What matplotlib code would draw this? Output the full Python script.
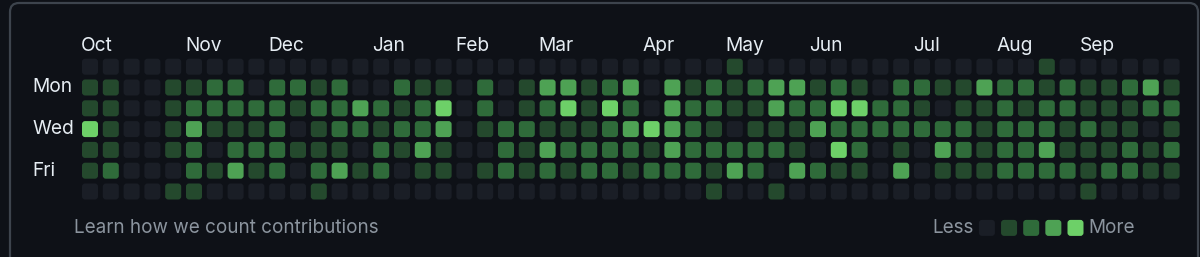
import matplotlib
matplotlib.use("Agg")
import matplotlib.pyplot as plt
from matplotlib.patches import FancyBboxPatch

# contribution levels (0-4), one list per weekday, 53 weeks each
sun = [0]*31 + [1] + [0]*14 + [1] + [0]*6
mon = [1, 1, 0, 0, 1, 1, 2, 2, 0, 2, 2, 1, 2, 0, 0, 2, 1, 1, 0, 2, 0, 1, 3, 3, 1, 2,
       3, 0, 3, 1, 2, 1, 2, 3, 3, 1, 2, 1, 0, 2, 2, 1, 1, 3, 2, 2, 1, 2, 1, 1, 2, 3, 1]
tue = [1, 1, 0, 0, 1, 2, 2, 2, 2, 2, 1, 2, 2, 3, 2, 1, 2, 4, 0, 2, 0, 1, 2, 4, 1, 4,
       2, 0, 3, 2, 2, 1, 1, 3, 2, 2, 4, 4, 2, 2, 1, 0, 1, 1, 2, 1, 2, 2, 1, 1, 1, 2, 2]
wed = [4, 1, 0, 0, 1, 3, 1, 1, 1, 2, 0, 1, 2, 2, 1, 2, 2, 3, 0, 1, 2, 2, 1, 1, 1, 2,
       3, 4, 3, 2, 1, 0, 1, 1, 1, 3, 2, 2, 2, 2, 2, 2, 2, 1, 2, 2, 2, 1, 2, 1, 1, 0, 1]
thu = [1, 1, 0, 0, 1, 2, 0, 2, 2, 2, 1, 1, 1, 0, 2, 1, 3, 1, 0, 0, 2, 1, 3, 2, 2, 2,
       2, 1, 3, 2, 2, 2, 2, 2, 1, 0, 4, 2, 0, 1, 0, 3, 2, 1, 2, 2, 3, 1, 1, 1, 2, 1, 2]
fri = [1, 2, 0, 0, 0, 2, 1, 3, 1, 2, 0, 2, 3, 1, 2, 0, 1, 1, 0, 1, 2, 1, 2, 1, 2, 2,
       1, 2, 2, 2, 1, 3, 2, 0, 3, 2, 1, 1, 0, 3, 0, 1, 1, 1, 2, 2, 2, 2, 1, 2, 2, 1, 1]
sat = [0, 0, 0, 0, 1, 1, 0, 0, 0, 0, 0, 1, 0, 0, 0, 0, 0, 0, 0, 0, 0, 0, 0, 0, 0, 0,
       0, 0, 0, 0, 1, 0, 0, 1, 0, 0, 0, 0, 0, 0, 0, 0, 0, 0, 0, 0, 0, 0, 1, 0, 0, 0, 0]

months = ["Oct", "Nov", "Dec", "Jan", "Feb", "Mar", "Apr", "May", "Jun", "Jul", "Aug", "Sep"]
month_weeks = [0, 5, 9, 14, 18, 22, 27, 31, 35, 40, 44, 48]
day_labels = ["Mon", "Wed", "Fri"]
day_rows = [1, 3, 5]

bg = "#0e1117"
palette = ["#1a1e26", "#24492d", "#2f6b3a", "#4ea254", "#6dd068"]
text_col = "#e6edf3"
muted = "#8b949e"

plt.rcParams['font.family'] = ['Inter', 'DejaVu Sans']

fig = plt.figure(figsize=(12, 2.57), dpi=100, facecolor=bg)

# outer box border
frame = fig.add_axes([0, 0, 1, 1])
frame.set_xlim(0, 1200)
frame.set_ylim(257, 0)
frame.axis("off")
frame.add_patch(FancyBboxPatch((10, 3), 1188, 300, boxstyle="round,pad=0,rounding_size=9",
                               facecolor=bg, edgecolor="#3d444d", linewidth=1.6))

# grid axes: one data unit = one cell step (20.8 px)
step = 20.8
x0, x1 = 90 - step / 2, 90 + 52 * step + step / 2
y0, y1 = 66.7 - step / 2, 66.7 + 6 * step + step / 2
ax = fig.add_axes([x0 / 1200, 1 - y1 / 257, (x1 - x0) / 1200, (y1 - y0) / 257])
ax.set_xlim(-0.5, 52.5)
ax.set_ylim(6.5, -0.5)
ax.axis("off")

size = 0.77
rows = [sun, mon, tue, wed, thu, fri, sat]
for r, row in enumerate(rows):
    for w, lvl in enumerate(row):
        ax.add_patch(FancyBboxPatch((w - size / 2, r - size / 2), size, size,
                                    boxstyle="round,pad=0,rounding_size=0.15",
                                    facecolor=palette[lvl], edgecolor="none"))

for m, w in zip(months, month_weeks):
    ax.text(w - size / 2 - 0.05, -1.0, m, color=text_col, fontsize=13.8,
            ha="left", va="center", clip_on=False)

for d, r in zip(day_labels, day_rows):
    ax.text(-2.75, r, d, color=text_col, fontsize=13.8, ha="left", va="center", clip_on=False)

# footer
ax.text(-0.75, 7.75, "Learn how we count contributions", color=muted, fontsize=13.6,
        ha="left", va="center", clip_on=False)

leg_x = 43.12
leg_step = 1.065
ax.text(leg_x - 0.65, 7.75, "Less", color=muted, fontsize=13.6, ha="right", va="center", clip_on=False)
for i, c in enumerate(palette):
    ax.add_patch(FancyBboxPatch((leg_x + i * leg_step - size / 2, 7.75 - size / 2), size, size,
                                boxstyle="round,pad=0,rounding_size=0.15",
                                facecolor=c, edgecolor="none", clip_on=False))
ax.text(leg_x + 4 * leg_step + 0.6, 7.75, "More", color=muted, fontsize=13.6,
        ha="left", va="center", clip_on=False)

fig.savefig("out.png", dpi=100, facecolor=bg)
